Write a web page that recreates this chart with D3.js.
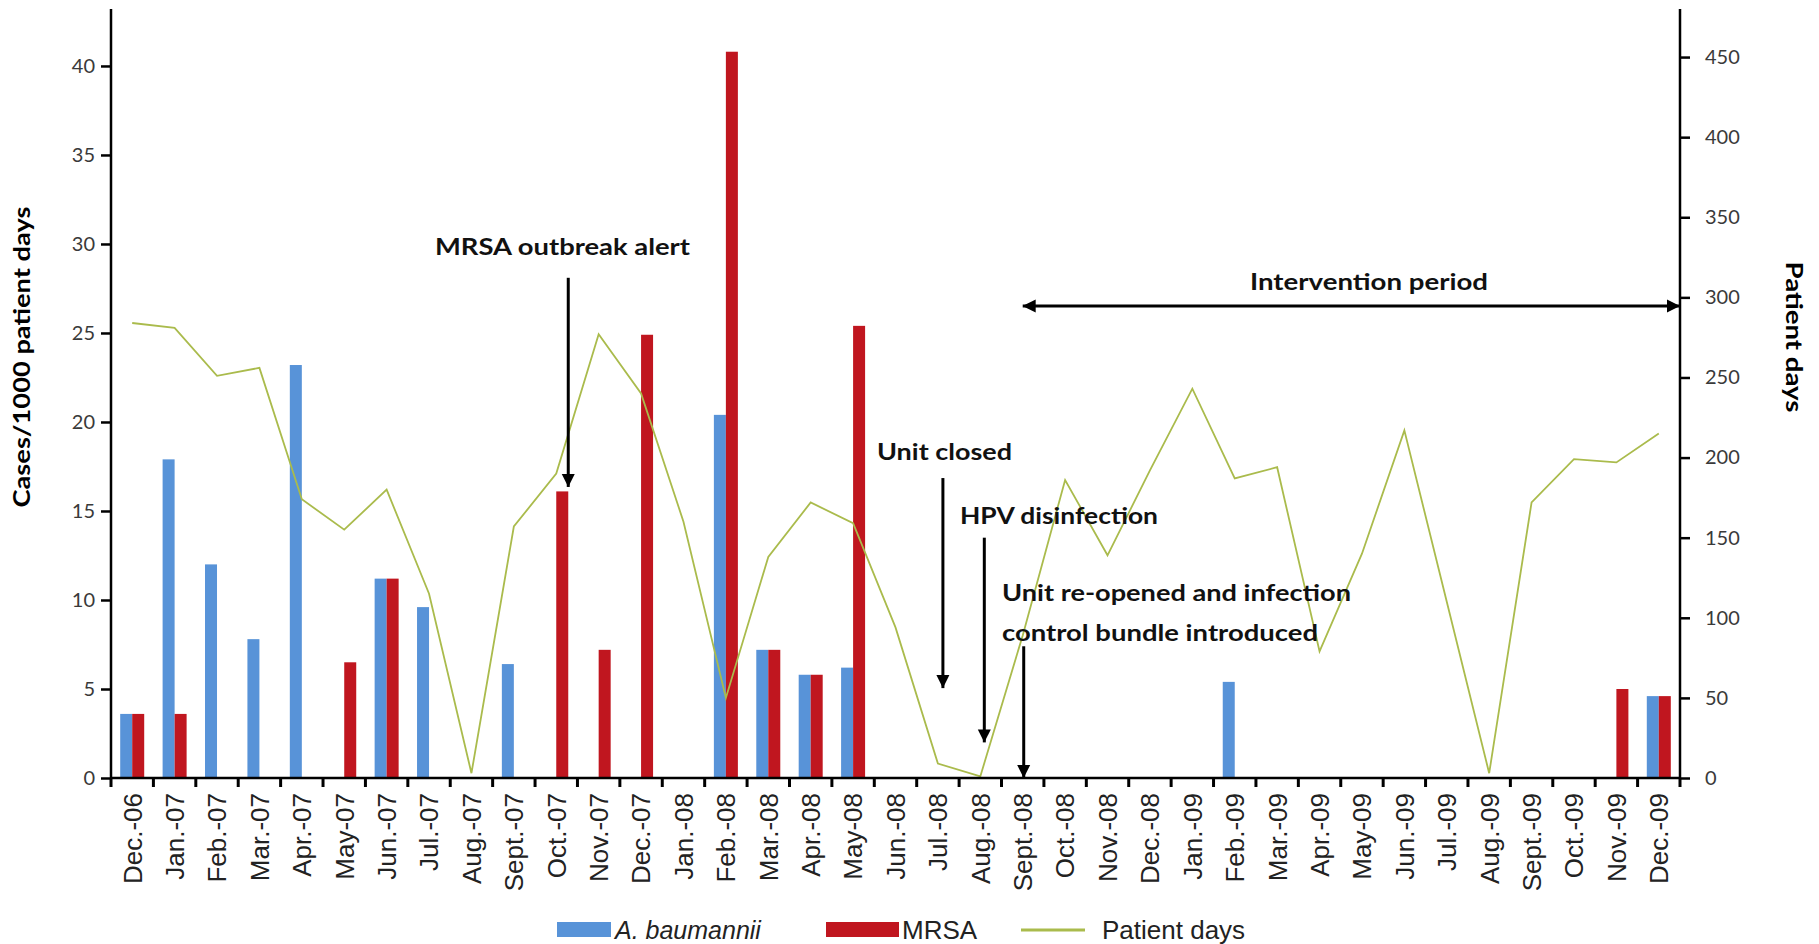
<!DOCTYPE html>
<html>
<head>
<meta charset="utf-8">
<script src="https://cdn.jsdelivr.net/npm/d3@7"></script>
<style>
  html, body { margin: 0; padding: 0; background: #fff; }
  svg { display: block; }
</style>
</head>
<body>
<svg id="chart" width="1819" height="944"></svg>
<script>
const categories = ["Dec.-06","Jan.-07","Feb.-07","Mar.-07","Apr.-07","May-07","Jun.-07","Jul.-07","Aug.-07","Sept.-07","Oct.-07","Nov.-07","Dec.-07","Jan.-08","Feb.-08","Mar.-08","Apr.-08","May-08","Jun.-08","Jul.-08","Aug.-08","Sept.-08","Oct.-08","Nov.-08","Dec.-08","Jan.-09","Feb.-09","Mar.-09","Apr.-09","May-09","Jun.-09","Jul.-09","Aug.-09","Sept.-09","Oct.-09","Nov.-09","Dec.-09"];
const baumannii = [3.6,17.9,12.0,7.8,23.2,0,11.2,9.6,0,6.4,0,0,0,0,20.4,7.2,5.8,6.2,0,0,0,0,0,0,0,0,5.4,0,0,0,0,0,0,0,0,0,4.6];
const mrsa = [3.6,3.6,0,0,0,6.5,11.2,0,0,0,16.1,7.2,24.9,0,40.8,7.2,5.8,25.4,0,0,0,0,0,0,0,0,0,0,0,0,0,0,0,0,0,5.0,4.6];
const patientDays = [284,281,251,256,174,155,180,115,3,157,190,277,240,160,50,138,172,159,94,9,1,89,186,139,192,243,187,194,79,140,217,110,3,172,199,197,215];
const leftTicks = [0,5,10,15,20,25,30,35,40];
const rightTicks = [0,50,100,150,200,250,300,350,400,450];
const seriesNames = ["A. baumannii","MRSA"];
const seriesColors = ["#5893d8","#c0161f"];
const lineColor = "#aabb4c";

(function () {
const svg = d3.select("#chart");
const pL = 111, pR = 1680, pT = 9, pB = 778;

const x = d3.scaleBand().domain(categories).range([pL, pR]).padding(0);
const bw = x.bandwidth();
const x1 = d3.scaleBand().domain(seriesNames).range([bw * 0.217, bw * 0.783]).padding(0);
const yL = d3.scaleLinear().domain([0, 43.2]).range([pB, pT]);
const yR = d3.scaleLinear().domain([0, 480]).range([pB, pT]);

const defs = svg.append("defs");
defs.append("marker").attr("id","arrowEnd").attr("viewBox","0 0 10 10")
  .attr("refX",10).attr("refY",5).attr("markerUnits","userSpaceOnUse")
  .attr("markerWidth",13).attr("markerHeight",14).attr("orient","auto")
  .append("path").attr("d","M0,0 L10,5 L0,10 Z").attr("fill","#000");
defs.append("marker").attr("id","arrowStart").attr("viewBox","0 0 10 10")
  .attr("refX",0).attr("refY",5).attr("markerUnits","userSpaceOnUse")
  .attr("markerWidth",13).attr("markerHeight",14).attr("orient","auto")
  .append("path").attr("d","M10,0 L0,5 L10,10 Z").attr("fill","#000");

const barData = [];
categories.forEach((c, i) => {
  barData.push({c, s: seriesNames[0], v: baumannii[i], col: seriesColors[0]});
  barData.push({c, s: seriesNames[1], v: mrsa[i], col: seriesColors[1]});
});
svg.append("g").selectAll("rect").data(barData.filter(d => d.v > 0)).join("rect")
  .attr("x", d => x(d.c) + x1(d.s))
  .attr("width", x1.bandwidth())
  .attr("y", d => yL(d.v))
  .attr("height", d => yL(0) - yL(d.v))
  .attr("fill", d => d.col);

const line = d3.line().x((d, i) => x(categories[i]) + bw / 2).y(d => yR(d));
svg.append("path").datum(patientDays).attr("d", line)
  .attr("fill","none").attr("stroke", lineColor).attr("stroke-width", 1.8);

const axisFont = "Lato, 'Open Sans', sans-serif";
const gL = svg.append("g").attr("transform", `translate(${pL},0)`)
  .call(d3.axisLeft(yL).tickValues(leftTicks).tickSize(10).tickPadding(6).tickFormat(d3.format("d")));
const gR = svg.append("g").attr("transform", `translate(${pR},0)`)
  .call(d3.axisRight(yR).tickValues(rightTicks).tickSize(10).tickPadding(15).tickFormat(d3.format("d")));
[gL, gR].forEach(g => {
  g.select(".domain").attr("d", `M0,${pT}V${pB}`).attr("stroke","#000").attr("stroke-width",2.5);
  g.selectAll(".tick line").attr("stroke","#000").attr("stroke-width",2.5);
  g.selectAll(".tick text").attr("font-family", axisFont).attr("font-size", 20).attr("fill","#3a3a3a");
});

const gX = svg.append("g").attr("transform", `translate(0,${pB})`);
gX.append("line").attr("x1", pL).attr("x2", pR).attr("y1",0).attr("y2",0)
  .attr("stroke","#000").attr("stroke-width",2.5);
const boundaries = categories.map(c => x(c)).concat([pR]);
gX.selectAll("line.tk").data(boundaries).join("line").attr("class","tk")
  .attr("x1", d => d).attr("x2", d => d).attr("y1", 0).attr("y2", 9)
  .attr("stroke","#000").attr("stroke-width",3);
gX.selectAll("text").data(categories).join("text")
  .attr("transform", d => `translate(${x(d) + bw / 2},15) rotate(-90)`)
  .attr("dy","0.36em")
  .attr("text-anchor","end")
  .attr("font-family","'Liberation Sans', Arial, sans-serif")
  .attr("font-size", 26)
  .attr("fill","#222")
  .text(d => d);

const boldFont = "Lato, 'Open Sans', sans-serif";
svg.append("text").attr("transform","translate(22,357) rotate(-90)")
  .attr("text-anchor","middle").attr("dy","0.35em")
  .attr("font-family", boldFont).attr("font-weight","bold").attr("font-size",22)
  .attr("textLength",301).attr("lengthAdjust","spacingAndGlyphs")
  .text("Cases/1000 patient days");
svg.append("text").attr("transform","translate(1794,337) rotate(90)")
  .attr("text-anchor","middle").attr("dy","0.35em")
  .attr("font-family", boldFont).attr("font-weight","bold").attr("font-size",22)
  .attr("textLength",151).attr("lengthAdjust","spacingAndGlyphs")
  .text("Patient days");

function note(txt, x0, yc, len) {
  svg.append("text").attr("x", x0).attr("y", yc).attr("dy","0.35em")
    .attr("font-family", boldFont).attr("font-weight","bold").attr("font-size",22)
    .attr("fill","#111")
    .attr("textLength", len).attr("lengthAdjust","spacingAndGlyphs")
    .text(txt);
}
function vArrow(cat, dx, v0, v1) {
  const xx = x(cat) + bw / 2 + dx;
  svg.append("line").attr("x1", xx).attr("x2", xx).attr("y1", yL(v0)).attr("y2", yL(v1))
    .attr("stroke","#000").attr("stroke-width",3).attr("marker-end","url(#arrowEnd)");
}
note("MRSA outbreak alert", 435, 247, 255);
vArrow("Oct.-07", 12, 28.1, 16.1 + 0.25);
note("Unit closed", 877, 452, 135);
vArrow("Jul.-08", 5, 16.85, 5.05);
note("HPV disinfection", 960, 516, 198);
vArrow("Aug.-08", 4, 13.5, 2.0);
note("Unit re-opened and infection", 1002, 593, 349);
note("control bundle introduced", 1002, 633, 316);
vArrow("Sept.-08", 1, 7.4, 0);

const ivX0 = x("Sept.-08") + bw / 2;
svg.append("line").attr("x1", ivX0).attr("x2", pR).attr("y1", 306).attr("y2", 306)
  .attr("stroke","#000").attr("stroke-width",3)
  .attr("marker-start","url(#arrowStart)").attr("marker-end","url(#arrowEnd)");
note("Intervention period", 1250, 282, 238);

const lg = svg.append("g");
const legFont = "'Liberation Sans', Arial, sans-serif";
lg.append("rect").attr("x",557).attr("y",922).attr("width",54).attr("height",15).attr("fill",seriesColors[0]);
lg.append("text").attr("x",615).attr("y",930).attr("dy","0.36em").attr("font-family",legFont)
  .attr("font-size",25).attr("font-style","italic").attr("fill","#222").text(seriesNames[0]);
lg.append("rect").attr("x",826).attr("y",922).attr("width",73).attr("height",15).attr("fill",seriesColors[1]);
lg.append("text").attr("x",902).attr("y",930).attr("dy","0.36em").attr("font-family",legFont)
  .attr("font-size",26).attr("fill","#222").text(seriesNames[1]);
lg.append("line").attr("x1",1021).attr("x2",1085).attr("y1",930).attr("y2",930)
  .attr("stroke",lineColor).attr("stroke-width",3);
lg.append("text").attr("x",1102).attr("y",930).attr("dy","0.36em").attr("font-family",legFont)
  .attr("font-size",26).attr("fill","#222").text("Patient days");
})();
</script>
</body>
</html>
